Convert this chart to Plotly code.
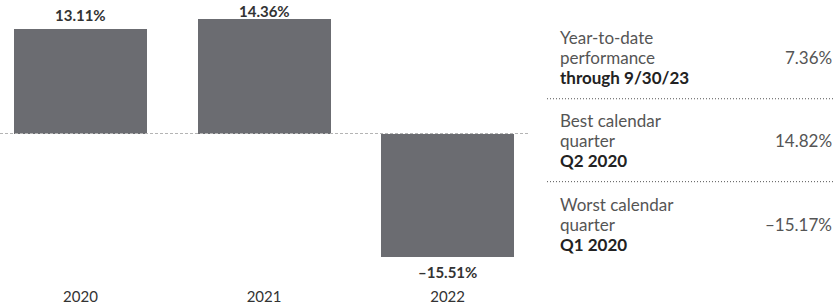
import plotly.graph_objects as go

# ---- data ----
years = ["2020", "2021", "2022"]
returns = [13.11, 14.36, -15.51]

stat_lines = [
    ["Year-to-date", "performance", "<b>through 9/30/23</b>"],
    ["Best calendar", "quarter", "<b>Q2 2020</b>"],
    ["Worst calendar", "quarter", "<b>Q1 2020</b>"],
]
stat_values = [7.36, 14.82, -15.17]

W, H = 839, 307
FONT = "Lato, 'Source Sans Pro', sans-serif"
BAR_COLOR = "#6b6c71"
TXT = 17
LBL = 15

# axis scaling: 7.97 px per %, zero at y=133.5, plot bottom at 286
plot_bottom = 286
ppu = 7.97
zero_px = 133.5
y_top = zero_px / ppu
y_bot = -(plot_bottom - zero_px) / ppu


def fmt(v):
    s = f"{v:.2f}%"
    return s.replace("-", "\u2013")


fig = go.Figure()
fig.add_trace(go.Bar(
    x=list(range(len(years))), y=returns,
    marker=dict(color=BAR_COLOR, line=dict(width=0)),
    width=0.725, hoverinfo="skip",
))

# bar value labels (kept inside the figure when a bar reaches the top)
half_box = LBL * 1.3 / 2 + 1
for i, v in enumerate(returns):
    if v >= 0:
        end_px = zero_px - v * ppu
        shift = min(14, end_px - half_box)
    else:
        shift = -15
    fig.add_annotation(
        x=i, y=v, xref="x", yref="y", text=f"<b>{fmt(v)}</b>",
        showarrow=False, yanchor="middle", yshift=shift,
        font=dict(family=FONT, size=LBL, color="#333333"),
    )

# zero line (dashed)
fig.add_shape(type="line", xref="x domain", yref="y", x0=0, x1=1, y0=0, y1=0,
              line=dict(color="#b4b4b4", width=1, dash="3px,2px"), layer="above")

# right-side stats panel
block_first_center = [40.5, 129, 219]
line_gap = 21.5
for lines, val, c0 in zip(stat_lines, stat_values, block_first_center):
    for k, ln in enumerate(lines):
        cy = c0 + k * line_gap
        fig.add_annotation(
            x=558 / W, y=1 - cy / H, xref="paper", yref="paper", text=ln,
            showarrow=False, xanchor="left", yanchor="middle", align="left",
            font=dict(family=FONT, size=TXT,
                      color="#222222" if ln.startswith("<b>") else "#555555"),
        )
    cy = c0 + line_gap
    fig.add_annotation(
        x=834 / W, y=1 - cy / H, xref="paper", yref="paper", text=fmt(val),
        showarrow=False, xanchor="right", yanchor="middle", align="right",
        font=dict(family=FONT, size=TXT, color="#555555"),
    )
for sy in [106, 195]:
    fig.add_shape(type="line", xref="paper", yref="paper",
                  x0=547 / W, x1=835 / W, y0=1 - sy / H, y1=1 - sy / H,
                  line=dict(color="#555555", width=1, dash="1px,2px"))

fig.update_layout(
    width=W, height=H,
    margin=dict(l=0, r=0, t=0, b=H - plot_bottom, pad=0),
    paper_bgcolor="white", plot_bgcolor="white",
    showlegend=False,
    bargap=0,
    xaxis=dict(domain=[0, 530 / W], range=[-0.4387, 2.449],
               tickmode="array", tickvals=list(range(len(years))), ticktext=years,
               showgrid=False, zeroline=False, showline=False, ticks="",
               tickfont=dict(family=FONT, size=15, color="#333333"),
               fixedrange=True),
    yaxis=dict(range=[y_bot, y_top], showgrid=False, zeroline=False,
               showline=False, showticklabels=False, ticks="", fixedrange=True),
)

fig.write_html("out.html", config={"displayModeBar": False},
               post_script="document.body.style.margin='0';")
